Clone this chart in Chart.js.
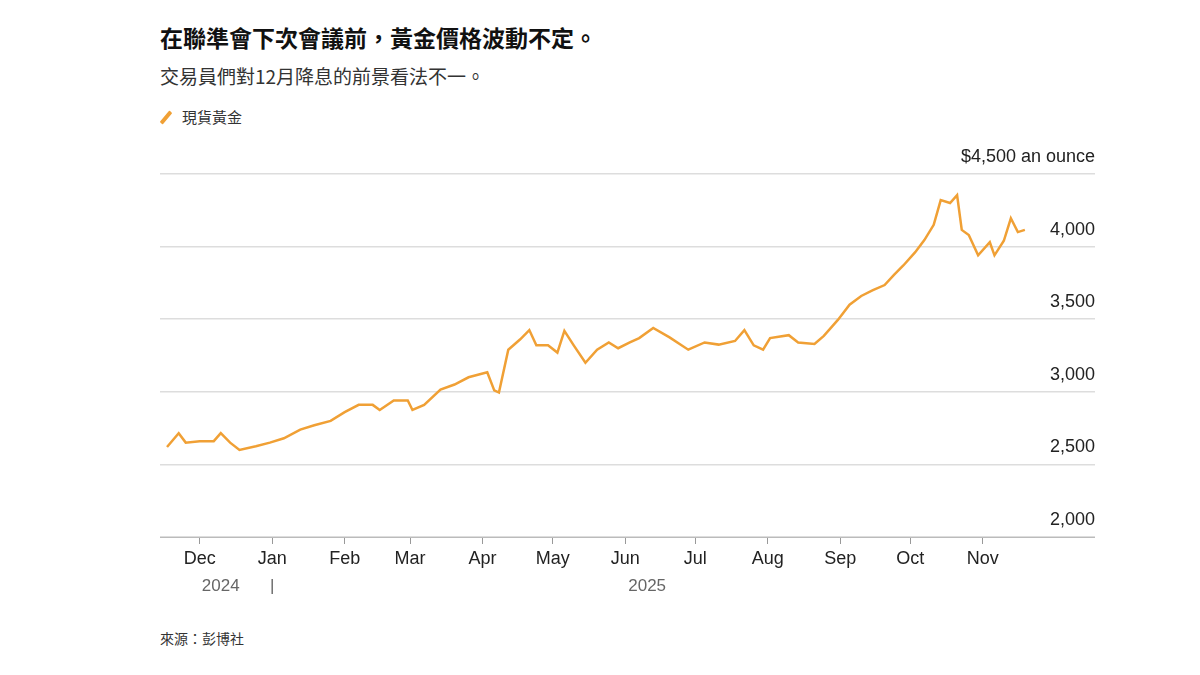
<!DOCTYPE html>
<html><head><meta charset="utf-8">
<script src="https://cdn.jsdelivr.net/npm/chart.js@4"></script>
<style>
body{margin:0;width:1200px;height:675px;background:#fff;font-family:"Noto Sans CJK TC","Noto Sans",sans-serif;color:#111;position:relative;overflow:hidden}
.t{position:absolute;left:160px;white-space:nowrap}
#box{position:absolute;left:160px;top:140px;width:935px;height:470px}
.ic{display:inline-block;width:4px;height:15px;background:#f0a035;transform:rotate(40deg);margin:0 14px 0 4px;vertical-align:-2px;border-radius:1px}
</style></head><body>
<div class="t" style="top:20px;font-size:23px;font-weight:bold">在聯準會下次會議前，黃金價格波動不定。</div>
<div class="t" style="top:62px;font-size:19px;color:#333">交易員們對12月降息的前景看法不一。</div>
<div class="t" style="top:106px;font-size:15px;color:#333"><span class="ic"></span>現貨黃金</div>
<div class="t" style="top:628px;font-size:14px;color:#333">來源：彭博社</div>
<div id="box"><canvas id="grafico"></canvas></div>
<script>
// days since 2024-12-01
const dias = [-14,-9,-6,0,6,9,13,17,24,30,36,43,49,56,62,68,74,77,83,89,91,96,103,109,115,123,126,128,132,137,141,144,149,153,156,160,165,170,175,179,184,188,194,201,209,216,222,229,233,237,241,244,252,256,263,267,273,278,283,288,293,297,301,306,310,314,317,321,324,326,329,333,338,340,344,347,350,353];
const precos = [2620,2715,2650,2660,2660,2715,2650,2600,2625,2650,2680,2740,2770,2800,2860,2910,2910,2875,2940,2940,2875,2910,3015,3050,3100,3135,3010,2995,3290,3360,3425,3320,3320,3270,3420,3320,3200,3290,3340,3300,3340,3370,3440,3375,3290,3340,3325,3350,3425,3320,3290,3370,3390,3340,3330,3385,3495,3600,3660,3700,3735,3805,3870,3960,4045,4150,4320,4300,4355,4115,4080,3940,4030,3940,4040,4195,4100,4115];
const mesesDias = [0,31,62,90,121,151,182,212,243,274,304,335];
const mesesNomes = ["Dec","Jan","Feb","Mar","Apr","May","Jun","Jul","Aug","Sep","Oct","Nov"];
const precoTicks = [2000,2500,3000,3500,4000,4500];

const anos = {
  id: "anos",
  afterDraw(chart) {
    const c = chart.ctx, x = chart.scales.x;
    c.save();
    c.font = "17px 'Liberation Sans', Arial";
    c.fillStyle = "#666";
    c.textAlign = "center";
    c.fillText("2024", x.getPixelForValue(9), 451);
    c.fillText("|", x.getPixelForValue(31), 451);
    c.fillText("2025", x.getPixelForValue(182) + 22, 451);
    c.restore();
  }
};

new Chart(document.getElementById("grafico"), {
  type: "line",
  data: {
    datasets: [{
      label: "現貨黃金",
      data: dias.map((d, i) => ({ x: d, y: precos[i] })),
      borderColor: "#f0a035",
      borderWidth: 2.5,
      pointRadius: 0,
      tension: 0
    }]
  },
  options: {
    responsive: true, maintainAspectRatio: false, animation: false,
    layout: { padding: { top: 34, left: 0, right: 0, bottom: 0 } },
    plugins: { legend: { display: false }, tooltip: { enabled: false } },
    scales: {
      x: {
        type: "linear", min: -17, max: 383,
        afterBuildTicks: (s) => { s.ticks = mesesDias.map(v => ({ value: v })); },
        afterFit: (s) => { s.height = 73; },
        ticks: {
          autoSkip: false, maxRotation: 0, padding: 4,
          font: { size: 18, family: "'Liberation Sans', Arial" }, color: "#222",
          callback: (v) => mesesNomes[mesesDias.indexOf(v)]
        },
        grid: { drawOnChartArea: false, drawTicks: true, tickLength: 7, color: "#999" },
        border: { display: true, color: "#bbb" }
      },
      y: {
        position: "right", min: 2000, max: 4500,
        afterBuildTicks: (s) => { s.ticks = precoTicks.map(v => ({ value: v })); },
        afterFit: (s) => { s.width = 0; },
        ticks: {
          mirror: true, labelOffset: -17, padding: 0,
          font: { size: 18, family: "'Liberation Sans', Arial" }, color: "#222",
          callback: (v) => v === 4500 ? "$4,500 an ounce" : v.toLocaleString("en-US")
        },
        grid: { color: "#ddd", lineWidth: 1.5, drawTicks: false },
        border: { display: false }
      }
    }
  },
  plugins: [anos]
});
</script>
</body></html>
